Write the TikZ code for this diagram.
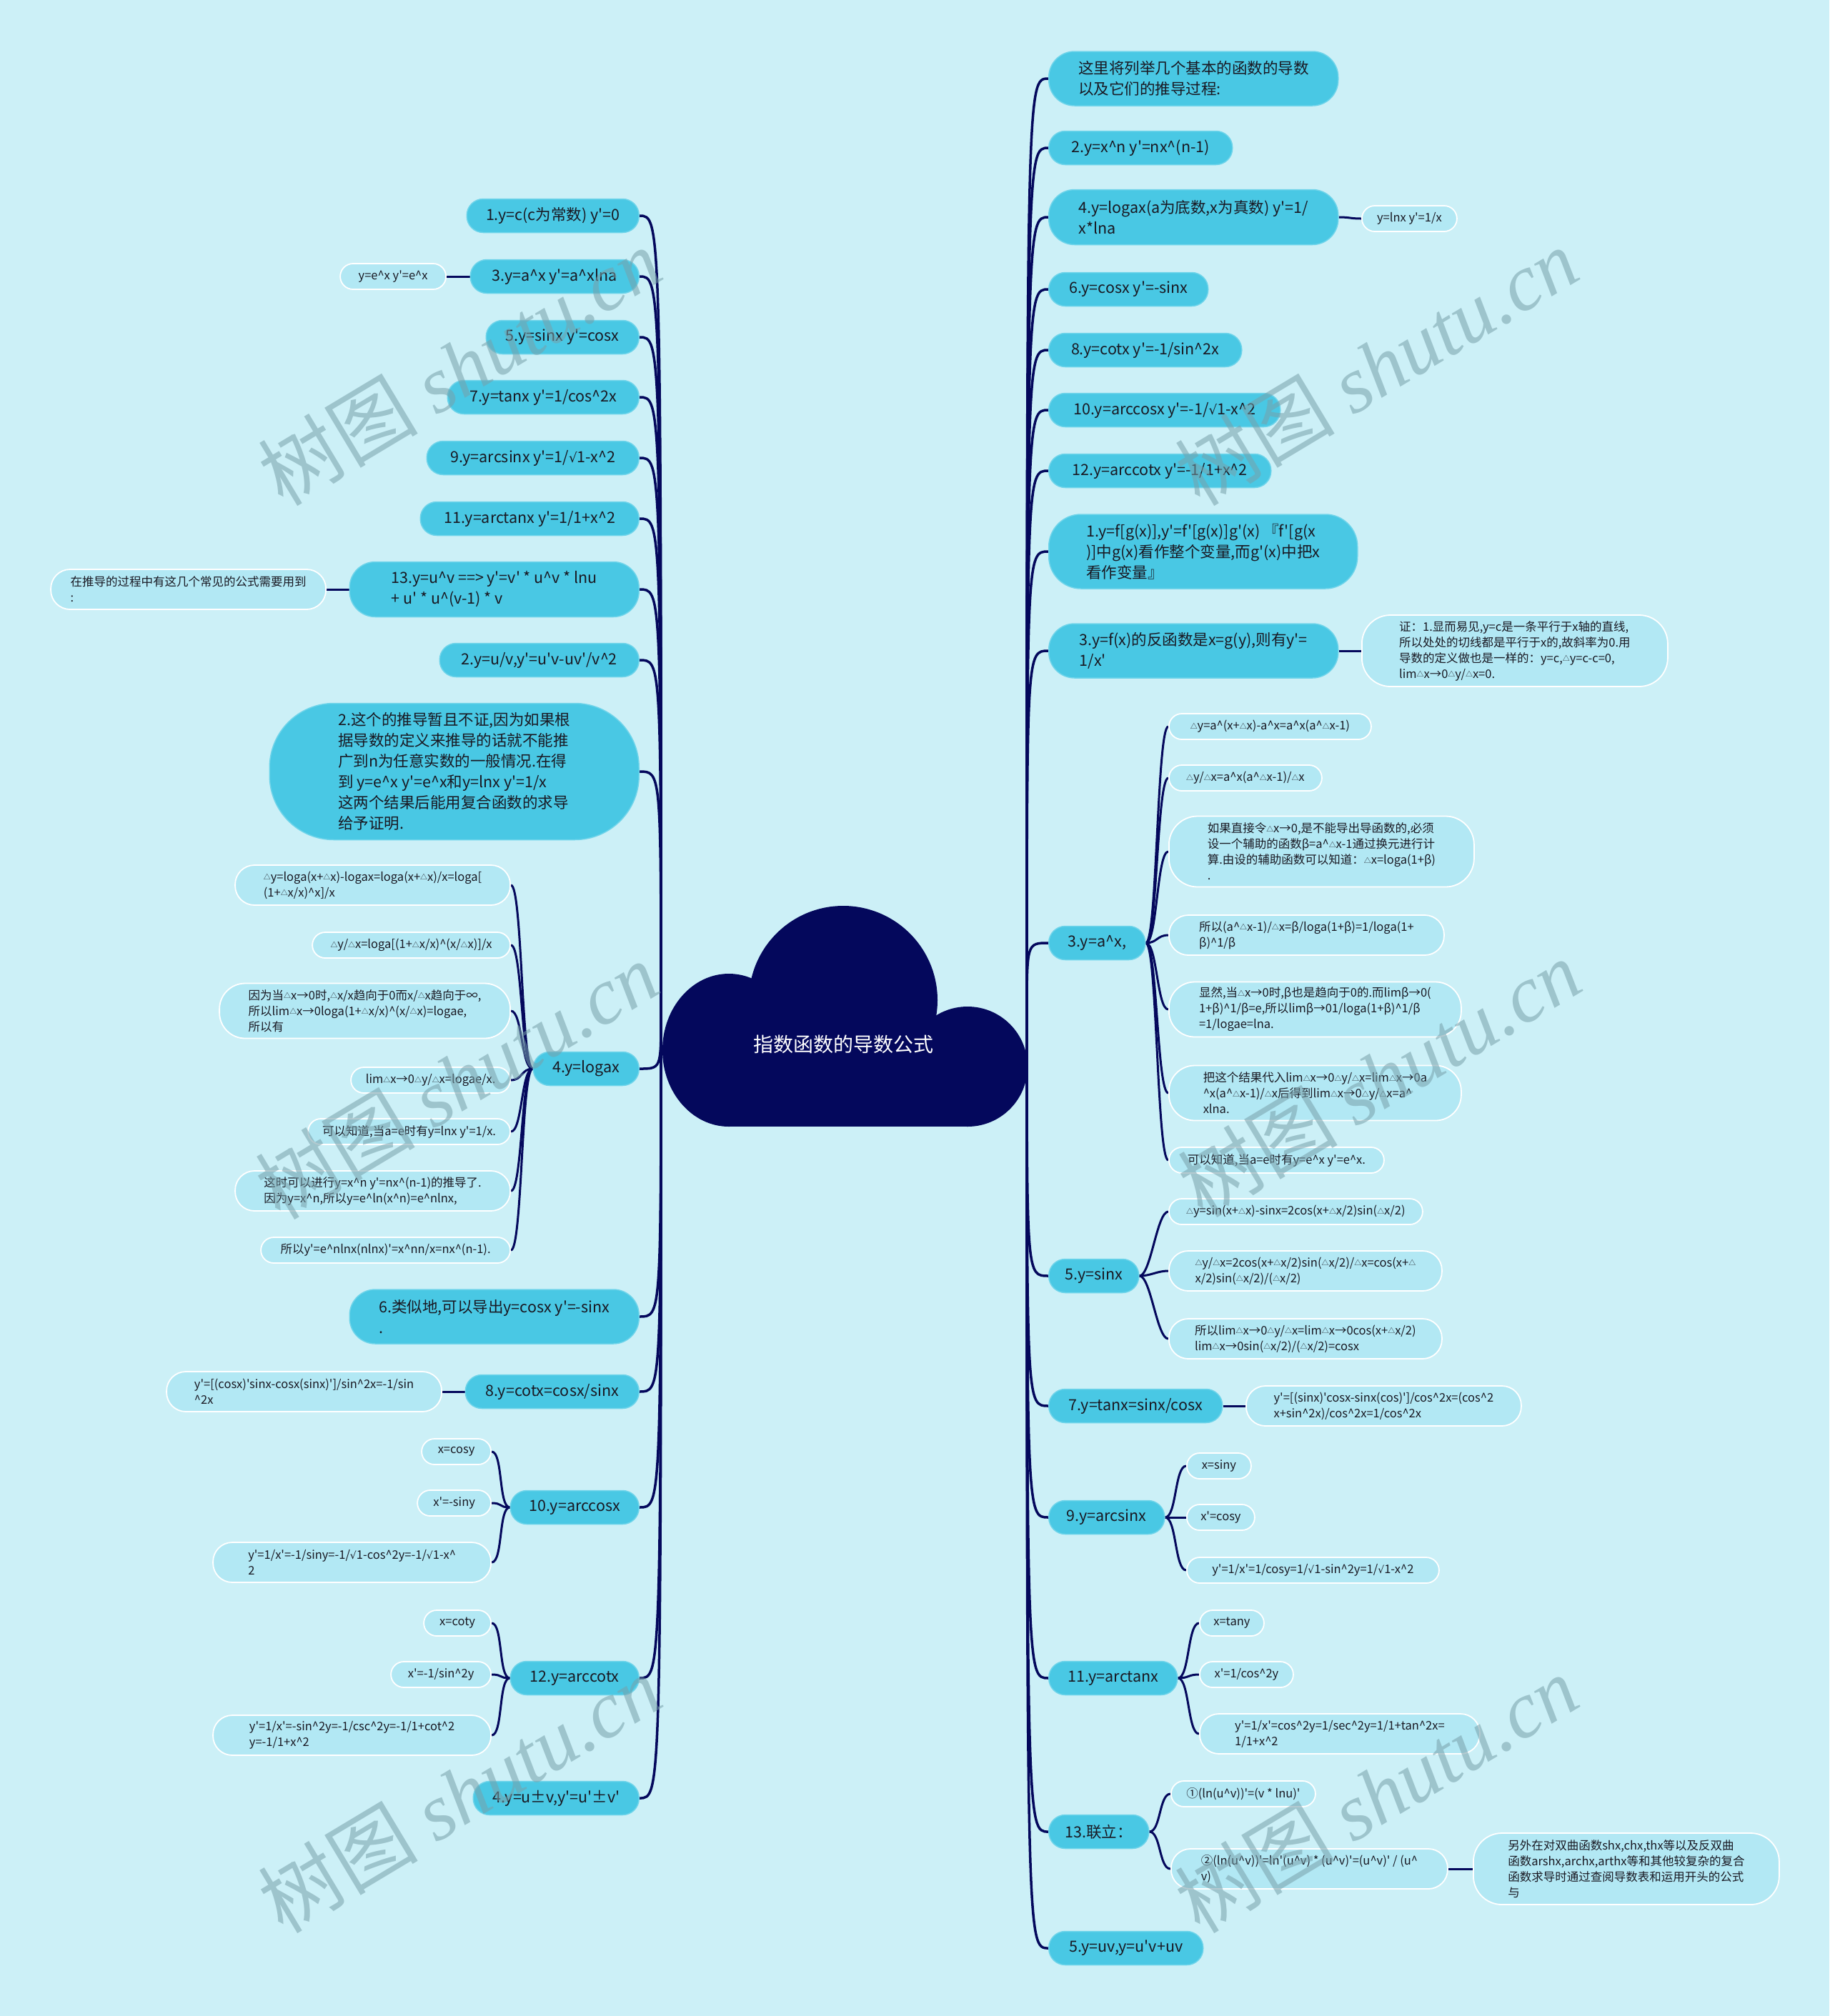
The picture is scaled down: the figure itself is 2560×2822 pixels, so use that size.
\documentclass[tikz,border=0pt]{standalone}
\usepackage{fontspec}
\usepackage{graphicx}
\newfontfamily\cjk{Noto Sans CJK SC}[Ligatures=TeXOff]
\newfontfamily\symf{DejaVu Sans}
\newfontfamily\wmserif{Liberation Serif}
\usetikzlibrary{backgrounds}
\definecolor{bgc}{RGB}{204,240,247}
\definecolor{mainc}{RGB}{73,200,228}
\definecolor{mainb}{RGB}{110,212,234}
\definecolor{leafc}{RGB}{178,232,244}
\definecolor{linec}{RGB}{4,8,92}
\definecolor{txtc}{RGB}{25,25,35}
\definecolor{wmc}{RGB}{120,160,170}
\newcommand\mainf{\cjk\fontsize{21.5}{29}\selectfont}
\newcommand\leaff{\cjk\fontsize{16.5}{22}\selectfont}
\newcommand\crt{\textasciicircum}
\newcommand\tri{\raisebox{0.15ex}{\scalebox{0.6}{△}}}
\newcommand\sqr{{\symf\scalebox{0.85}{√}}}
\tikzset{
  mainnode/.style={fill=mainc, draw=mainb, line width=1.5pt, text=txtc, font=\mainf,
    align=left, inner xsep=18pt, inner ysep=6pt, minimum height=47pt, rounded corners=23pt},
  leafnode/.style={fill=leafc, draw=white, line width=1.8pt, text=txtc, font=\leaff,
    align=left, inner xsep=13pt, inner ysep=5pt, minimum height=36pt, rounded corners=18pt},
  rn/.style={anchor=west}, ln/.style={anchor=east},
  mlink/.style={draw=linec, line width=3.5pt},
  slink/.style={draw=linec, line width=3pt},
  wmark/.style={rotate=31, text=wmc, opacity=0.55, font=\cjk\fontsize{112}{120}\selectfont}
}
\begin{document}
\begin{tikzpicture}[x=1pt,y=-1pt]
\useasboundingbox (0,0) rectangle (2560,2822);
% ---------- right side ----------
\node[mainnode,rn,minimum width=405pt,minimum height=76pt,rounded corners=36pt] (R1) at (1467,110) {这里将列举几个基本的函数的导数\\以及它们的推导过程:};
\node[mainnode,rn,minimum width=257pt] (R2) at (1467,207) {2.y=x\crt{}n y'=nx\crt{}(n-1)};
\node[mainnode,rn,minimum width=405pt,minimum height=77pt,rounded corners=36pt] (R3) at (1467,304) {4.y=logax(a为底数,x为真数) y'=1/\\x*lna};
\node[leafnode,rn,minimum width=133pt] (R3c) at (1905,306) {y=lnx y'=1/x};
\node[mainnode,rn,minimum width=223pt] (R4) at (1467,405) {6.y=cosx y'=-sinx};
\node[mainnode,rn,minimum width=270pt] (R5) at (1467,490) {8.y=cotx y'=-1/sin\crt{}2x};
\node[mainnode,rn,minimum width=324pt] (R6) at (1467,574) {10.y=arccosx y'=-1/\sqr{}1-x\crt{}2};
\node[mainnode,rn,minimum width=311pt] (R7) at (1467,659) {12.y=arccotx y'=-1/1+x\crt{}2};
\node[mainnode,rn,minimum width=432pt,minimum height=104pt,rounded corners=45pt] (R8) at (1467,772) {1.y=f[g(x)],y'=f'[g(x)]g'(x) 『f'[g(x\\)]中g(x)看作整个变量,而g'(x)中把x\\看作变量』};
\node[mainnode,rn,minimum width=405pt,minimum height=76pt,rounded corners=36pt] (R9) at (1467,911) {3.y=f(x)的反函数是x=g(y),则有y'=\\1/x'};
\node[leafnode,rn,minimum width=428pt,minimum height=100pt,rounded corners=40pt] (R9c) at (1905,911) {证：1.显而易见,y=c是一条平行于x轴的直线,\\所以处处的切线都是平行于x的,故斜率为0.用\\导数的定义做也是一样的：y=c,\tri{}y=c-c=0,\\lim\tri{}x→0\tri{}y/\tri{}x=0.};
\node[mainnode,rn,minimum width=135pt] (R10) at (1467,1320) {3.y=a\crt{}x,};
\node[leafnode,rn,minimum width=283pt] (c1) at (1635,1017) {\tri{}y=a\crt{}(x+\tri{}x)-a\crt{}x=a\crt{}x(a\crt{}\tri{}x-1)};
\node[leafnode,rn,minimum width=214pt] (c2) at (1635,1089) {\tri{}y/\tri{}x=a\crt{}x(a\crt{}\tri{}x-1)/\tri{}x};
\node[leafnode,rn,minimum width=427pt,minimum height=99pt,rounded corners=40pt] (c3) at (1635,1192) {如果直接令\tri{}x→0,是不能导出导函数的,必须\\设一个辅助的函数β=a\crt{}\tri{}x-1通过换元进行计\\算.由设的辅助函数可以知道：\tri{}x=loga(1+β)\\.};
\node[leafnode,rn,minimum width=385pt,minimum height=56pt,rounded corners=27pt] (c4) at (1635,1309) {所以(a\crt{}\tri{}x-1)/\tri{}x=β/loga(1+β)=1/loga(1+\\β)\crt{}1/β};
\node[leafnode,rn,minimum width=409pt,minimum height=77pt,rounded corners=36pt] (c5) at (1635,1413) {显然,当\tri{}x→0时,β也是趋向于0的.而limβ→0(\\1+β)\crt{}1/β=e,所以limβ→01/loga(1+β)\crt{}1/β\\=1/logae=lna.};
\node[leafnode,rn,minimum width=409pt,minimum height=77pt,rounded corners=36pt] (c6) at (1635,1530) {把这个结果代入lim\tri{}x→0\tri{}y/\tri{}x=lim\tri{}x→0a\\\crt{}x(a\crt{}\tri{}x-1)/\tri{}x后得到lim\tri{}x→0\tri{}y/\tri{}x=a\crt{}\\xlna.};
\node[leafnode,rn,minimum width=301pt] (c7) at (1635,1624) {可以知道,当a=e时有y=e\crt{}x y'=e\crt{}x.};
\node[mainnode,rn,minimum width=126pt] (R11) at (1467,1786) {5.y=sinx};
\node[leafnode,rn,minimum width=355pt] (s1) at (1635,1696) {\tri{}y=sin(x+\tri{}x)-sinx=2cos(x+\tri{}x/2)sin(\tri{}x/2)};
\node[leafnode,rn,minimum width=382pt,minimum height=56pt,rounded corners=27pt] (s2) at (1635,1779) {\tri{}y/\tri{}x=2cos(x+\tri{}x/2)sin(\tri{}x/2)/\tri{}x=cos(x+\tri{}\\x/2)sin(\tri{}x/2)/(\tri{}x/2)};
\node[leafnode,rn,minimum width=382pt,minimum height=56pt,rounded corners=27pt] (s3) at (1635,1874) {所以lim\tri{}x→0\tri{}y/\tri{}x=lim\tri{}x→0cos(x+\tri{}x/2)\\lim\tri{}x→0sin(\tri{}x/2)/(\tri{}x/2)=cosx};
\node[mainnode,rn,minimum width=243pt] (R12) at (1467,1968) {7.y=tanx=sinx/cosx};
\node[leafnode,rn,minimum width=385pt,minimum height=56pt,rounded corners=27pt] (R12c) at (1743,1968) {y'=[(sinx)'cosx-sinx(cos)']/cos\crt{}2x=(cos\crt{}2\\x+sin\crt{}2x)/cos\crt{}2x=1/cos\crt{}2x};
\node[mainnode,rn,minimum width=162pt] (R13) at (1467,2124) {9.y=arcsinx};
\node[leafnode,rn,minimum width=90pt] (a1) at (1660,2052) {x=siny};
\node[leafnode,rn,minimum width=95pt] (a2) at (1660,2124) {x'=cosy};
\node[leafnode,rn,minimum width=353pt] (a3) at (1660,2198) {y'=1/x'=1/cosy=1/\sqr{}1-sin\crt{}2y=1/\sqr{}1-x\crt{}2};
\node[mainnode,rn,minimum width=180pt] (R14) at (1467,2349) {11.y=arctanx};
\node[leafnode,rn,minimum width=90pt] (t1) at (1678,2272) {x=tany};
\node[leafnode,rn,minimum width=131pt] (t2) at (1678,2344) {x'=1/cos\crt{}2y};
\node[leafnode,rn,minimum width=392pt,minimum height=56pt,rounded corners=27pt] (t3) at (1678,2427) {y'=1/x'=cos\crt{}2y=1/sec\crt{}2y=1/1+tan\crt{}2x=\\1/1+x\crt{}2};
\node[mainnode,rn,minimum width=140pt] (R15) at (1467,2564) {13.联立：};
\node[leafnode,rn,minimum width=202pt] (u1) at (1638,2511) {①(ln(u\crt{}v))'=(v * lnu)'};
\node[leafnode,rn,minimum width=387pt,minimum height=56pt,rounded corners=27pt] (u2) at (1638,2616) {②(ln(u\crt{}v))'=ln'(u\crt{}v) * (u\crt{}v)'=(u\crt{}v)' / (u\crt{}\\v)};
\node[leafnode,rn,minimum width=428pt,minimum height=100pt,rounded corners=40pt] (u2c) at (2061,2616) {另外在对双曲函数shx,chx,thx等以及反双曲\\函数arshx,archx,arthx等和其他较复杂的复合\\函数求导时通过查阅导数表和运用开头的公式\\与};
\node[mainnode,rn,minimum width=216pt] (R16) at (1467,2727) {5.y=uv,y=u'v+uv};
% ---------- left side ----------
\node[mainnode,ln,minimum width=241pt] (L1) at (895,302) {1.y=c(c为常数) y'=0};
\node[mainnode,ln,minimum width=236pt] (L2) at (895,387) {3.y=a\crt{}x y'=a\crt{}xlna};
\node[leafnode,ln,minimum width=148pt] (L2c) at (625,387) {y=e\crt{}x y'=e\crt{}x};
\node[mainnode,ln,minimum width=214pt] (L3) at (895,472) {5.y=sinx y'=cosx};
\node[mainnode,ln,minimum width=268pt] (L4) at (895,556) {7.y=tanx y'=1/cos\crt{}2x};
\node[mainnode,ln,minimum width=297pt] (L5) at (895,641) {9.y=arcsinx y'=1/\sqr{}1-x\crt{}2};
\node[mainnode,ln,minimum width=306pt] (L6) at (895,726) {11.y=arctanx y'=1/1+x\crt{}2};
\node[mainnode,ln,minimum width=405pt,minimum height=77pt,rounded corners=36pt] (L7) at (895,825) {13.y=u\crt{}v ==> y'=v' * u\crt{}v * lnu\\+ u' * u\crt{}(v-1) * v};
\node[leafnode,ln,minimum width=385pt,minimum height=56pt,rounded corners=27pt] (L7c) at (457,825) {在推导的过程中有这几个常见的公式需要用到\\:};
\node[mainnode,ln,minimum width=279pt] (L8) at (895,924) {2.y=u/v,y'=u'v-uv'/v\crt{}2};
\node[mainnode,ln,minimum width=517pt,minimum height=191pt,rounded corners=90pt] (L9) at (895,1080) {2.这个的推导暂且不证,因为如果根\\据导数的定义来推导的话就不能推\\广到n为任意实数的一般情况.在得\\到 y=e\crt{}x y'=e\crt{}x和y=lnx y'=1/x\\这两个结果后能用复合函数的求导\\给予证明.};
\node[mainnode,ln,minimum width=148pt] (L10) at (895,1496) {4.y=logax};
\node[leafnode,ln,minimum width=385pt,minimum height=56pt,rounded corners=27pt] (g1) at (715,1239) {\tri{}y=loga(x+\tri{}x)-logax=loga(x+\tri{}x)/x=loga[\\(1+\tri{}x/x)\crt{}x]/x};
\node[leafnode,ln,minimum width=277pt] (g2) at (715,1323) {\tri{}y/\tri{}x=loga[(1+\tri{}x/x)\crt{}(x/\tri{}x)]/x};
\node[leafnode,ln,minimum width=407pt,minimum height=77pt,rounded corners=36pt] (g3) at (715,1415) {因为当\tri{}x→0时,\tri{}x/x趋向于0而x/\tri{}x趋向于∞,\\所以lim\tri{}x→0loga(1+\tri{}x/x)\crt{}(x/\tri{}x)=logae,\\所以有};
\node[leafnode,ln,minimum width=223pt] (g4) at (715,1512) {lim\tri{}x→0\tri{}y/\tri{}x=logae/x.};
\node[leafnode,ln,minimum width=283pt] (g5) at (715,1584) {可以知道,当a=e时有y=lnx y'=1/x.};
\node[leafnode,ln,minimum width=385pt,minimum height=56pt,rounded corners=27pt] (g6) at (715,1667) {这时可以进行y=x\crt{}n y'=nx\crt{}(n-1)的推导了.\\因为y=x\crt{}n,所以y=e\crt{}ln(x\crt{}n)=e\crt{}nlnx,};
\node[leafnode,ln,minimum width=349pt] (g7) at (715,1750) {所以y'=e\crt{}nlnx(nlnx)'=x\crt{}nn/x=nx\crt{}(n-1).};
\node[mainnode,ln,minimum width=405pt,minimum height=76pt,rounded corners=36pt] (L11) at (895,1843) {6.类似地,可以导出y=cosx y'=-sinx\\.};
\node[mainnode,ln,minimum width=243pt] (L12) at (895,1948) {8.y=cotx=cosx/sinx};
\node[leafnode,ln,minimum width=385pt,minimum height=56pt,rounded corners=27pt] (L12c) at (619,1948) {y'=[(cosx)'sinx-cosx(sinx)']/sin\crt{}2x=-1/sin\\\crt{}2x};
\node[mainnode,ln,minimum width=180pt] (L13) at (895,2110) {10.y=arccosx};
\node[leafnode,ln,minimum width=97pt] (k1) at (688,2032) {x=cosy};
\node[leafnode,ln,minimum width=103pt] (k2) at (688,2104) {x'=-siny};
\node[leafnode,ln,minimum width=389pt,minimum height=56pt,rounded corners=27pt] (k3) at (688,2187) {y'=1/x'=-1/siny=-1/\sqr{}1-cos\crt{}2y=-1/\sqr{}1-x\crt{}\\2};
\node[mainnode,ln,minimum width=180pt] (L14) at (895,2349) {12.y=arccotx};
\node[leafnode,ln,minimum width=94pt] (m1) at (688,2272) {x=coty};
\node[leafnode,ln,minimum width=140pt] (m2) at (688,2344) {x'=-1/sin\crt{}2y};
\node[leafnode,ln,minimum width=389pt,minimum height=56pt,rounded corners=27pt] (m3) at (688,2429) {y'=1/x'=-sin\crt{}2y=-1/csc\crt{}2y=-1/1+cot\crt{}2\\y=-1/1+x\crt{}2};
\node[mainnode,ln,minimum width=232pt] (L15) at (895,2517) {4.y=u±v,y'=u'±v'};
% ---------- central cloud ----------
\fill[linec] (1020,1470) ellipse [x radius=93, y radius=107];
\fill[linec] (1180,1400) circle [radius=132];
\fill[linec] (1354,1493) circle [radius=84];
\fill[linec] (1020,1440) rectangle (1354,1577);
\node[text=white, font=\cjk\fontsize{28}{34}\selectfont] (root) at (1180,1462) {指数函数的导数公式};
\coordinate (rootR) at (1437,1422);
\coordinate (rootL) at (925,1422);
% ---------- connectors ----------
\begin{pgfonlayer}{background}
\fill[bgc] (0,0) rectangle (2560,2822);
\foreach \n in {R1,R2,R3,R4,R5,R6,R7,R8,R9,R10,R11,R12,R13,R14,R15,R16}
  \draw[mlink] (rootR) .. controls (rootR |- \n.west) .. (\n.west);
\foreach \n in {L1,L2,L3,L4,L5,L6,L7,L8,L9,L10,L11,L12,L13,L14,L15}
  \draw[mlink] (rootL) .. controls (rootL |- \n.east) .. (\n.east);
\foreach \a/\b in {R3/R3c,R9/R9c,R10/c1,R10/c2,R10/c3,R10/c4,R10/c5,R10/c6,R10/c7,R11/s1,R11/s2,R11/s3,R12/R12c,R13/a1,R13/a2,R13/a3,R14/t1,R14/t2,R14/t3,R15/u1,R15/u2,u2/u2c}
  \draw[slink] (\a.east) .. controls +(16,0) and +(-16,0) .. (\b.west);
\foreach \a/\b in {L2/L2c,L7/L7c,L10/g1,L10/g2,L10/g3,L10/g4,L10/g5,L10/g6,L10/g7,L12/L12c,L13/k1,L13/k2,L13/k3,L14/m1,L14/m2,L14/m3}
  \draw[slink] (\a.west) .. controls +(-16,0) and +(16,0) .. (\b.east);
\end{pgfonlayer}
% ---------- watermarks ----------
\node[wmark] (wm1) at (643,513) {树图 {\wmserif\itshape shutu.cn}};
\node[wmark] (wm2) at (1926,513) {树图 {\wmserif\itshape shutu.cn}};
\node[wmark] (wm3) at (639,1512) {树图 {\wmserif\itshape shutu.cn}};
\node[wmark] (wm4) at (1930,1509) {树图 {\wmserif\itshape shutu.cn}};
\node[wmark] (wm5) at (643,2511) {树图 {\wmserif\itshape shutu.cn}};
\node[wmark] (wm6) at (1926,2511) {树图 {\wmserif\itshape shutu.cn}};
\end{tikzpicture}
\end{document}
